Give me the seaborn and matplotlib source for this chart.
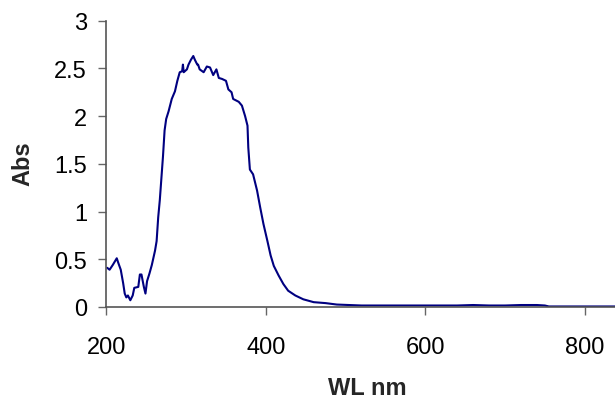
import matplotlib
matplotlib.use("Agg")
import matplotlib.pyplot as plt
import seaborn as sns
import pandas as pd

wavelength = [201, 204, 208, 213, 215, 218, 221, 223, 225, 227, 230, 233, 235, 240, 242, 244,
              247, 249, 251, 254, 257, 261, 263, 265, 267, 271, 273, 275, 278, 282, 286, 289,
              292, 295, 296, 297, 301, 303, 306, 309, 311, 314, 315, 317, 322, 326, 330, 334,
              338, 341, 345, 350, 353, 357, 359, 366, 370, 374, 377, 378, 380, 384, 389, 393,
              397, 402, 406, 410, 416, 422, 428, 437, 447, 460, 475, 489, 520, 560, 600, 640,
              660, 680, 700, 720, 740, 750, 755, 800, 838]
absorbance = [0.41, 0.39, 0.44, 0.51, 0.46, 0.39, 0.25, 0.14, 0.10, 0.12, 0.07, 0.12, 0.20, 0.21,
              0.34, 0.34, 0.21, 0.14, 0.27, 0.35, 0.44, 0.59, 0.69, 0.94, 1.12, 1.58, 1.85, 1.97,
              2.05, 2.18, 2.26, 2.37, 2.46, 2.47, 2.54, 2.46, 2.49, 2.54, 2.59, 2.63, 2.59, 2.54,
              2.54, 2.49, 2.46, 2.52, 2.51, 2.43, 2.49, 2.40, 2.39, 2.37, 2.28, 2.25, 2.18, 2.15,
              2.11, 2.00, 1.90, 1.67, 1.44, 1.39, 1.22, 1.04, 0.87, 0.69, 0.54, 0.43, 0.33, 0.24,
              0.17, 0.12, 0.08, 0.05, 0.04, 0.025, 0.015, 0.015, 0.015, 0.015, 0.02, 0.015, 0.015,
              0.02, 0.02, 0.015, 0.005, 0.005, 0.005]

x_ticks = [200, 400, 600, 800]
y_ticks = [0, 0.5, 1, 1.5, 2, 2.5, 3]
y_tick_labels = ["0", "0.5", "1", "1.5", "2", "2.5", "3"]

sns.set_theme(style="ticks")
plt.rcParams["font.family"] = ["Liberation Sans", "DejaVu Sans"]

df = pd.DataFrame({"WL": wavelength, "Abs": absorbance})

fig = plt.figure(figsize=(6.15, 4.02), dpi=100)
ax = fig.add_axes([0.173, 0.234, 0.827, 0.712])
sns.lineplot(data=df, x="WL", y="Abs", ax=ax, color="#000080", linewidth=1.5, sort=False)

ax.set_xlim(200, 838)
ax.set_ylim(0, 3)
ax.set_xticks(x_ticks)
ax.set_xticklabels([str(t) for t in x_ticks])
ax.set_yticks(y_ticks)
ax.set_yticklabels(y_tick_labels)
ax.tick_params(axis="both", labelsize=17, colors="#000000", length=6, width=1,
               direction="out", color="#666666")
ax.tick_params(axis="x", pad=15)
ax.tick_params(axis="y", pad=8)

for side in ["top", "right"]:
    ax.spines[side].set_visible(False)
for side in ["left", "bottom"]:
    ax.spines[side].set_color("#555555")
    ax.spines[side].set_linewidth(1.2)

ax.set_xlabel("")
ax.set_ylabel("")
fig.text(367 / 615, 2 / 402, "WL nm", fontsize=17, fontweight="bold",
         ha="center", va="bottom")
fig.text(23 / 615, 1 - 164 / 402, "Abs", fontsize=17, fontweight="bold",
         ha="center", va="center", rotation=90)

fig.savefig("out.png", dpi=100)
